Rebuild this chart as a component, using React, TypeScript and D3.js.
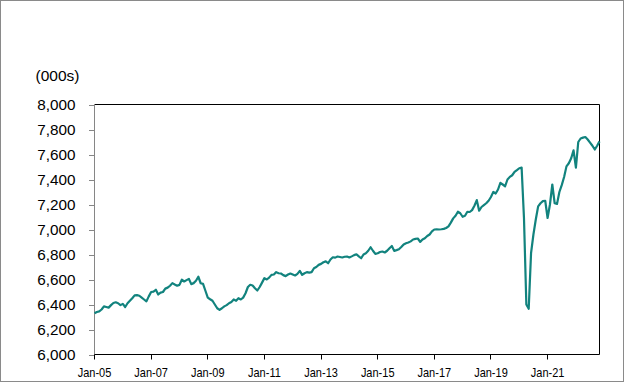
import React from "react";
import * as d3 from "d3";

const startYear = 2005;
const unitLabel = "(000s)";
const yTicks = [6000, 6200, 6400, 6600, 6800, 7000, 7200, 7400, 7600, 7800, 8000];
const xTickLabels = ["Jan-05", "Jan-07", "Jan-09", "Jan-11", "Jan-13", "Jan-15", "Jan-17", "Jan-19", "Jan-21"];

// Monthly employment, thousands, Jan 2005 – Nov 2022
const employment = [
  // 2005
  6330, 6340, 6345, 6360, 6385, 6380, 6375, 6395, 6412, 6418, 6410, 6395,
  // 2006
  6405, 6380, 6410, 6430, 6450, 6473, 6475, 6470, 6455, 6440, 6425, 6465,
  // 2007
  6500, 6503, 6518, 6480, 6495, 6500, 6527, 6535, 6550, 6571, 6560, 6550,
  // 2008
  6557, 6598, 6584, 6595, 6605, 6563, 6571, 6590, 6622, 6570, 6565, 6510,
  // 2009
  6455, 6442, 6430, 6400, 6370, 6357, 6370, 6385, 6395, 6410, 6420, 6440,
  // 2010
  6430, 6450, 6440, 6455, 6490, 6540, 6558, 6552, 6530, 6512, 6540, 6575,
  // 2011
  6611, 6600, 6615, 6637, 6640, 6659, 6650, 6648, 6635, 6627, 6640, 6648,
  // 2012
  6640, 6632, 6645, 6669, 6637, 6650, 6659, 6655, 6659, 6690, 6700, 6717,
  // 2013
  6725, 6738, 6745, 6730, 6760, 6778, 6775, 6784, 6780, 6776, 6782, 6784,
  // 2014
  6776, 6785, 6795, 6802, 6785, 6770, 6800, 6810, 6830, 6858, 6830, 6805,
  // 2015
  6810, 6820, 6824, 6816, 6830, 6850, 6868, 6829, 6835, 6842, 6860, 6880,
  // 2016
  6890, 6896, 6905, 6920, 6925, 6928, 6901, 6920, 6930, 6948, 6960, 6985,
  // 2017
  7000, 7001, 7000, 7002, 7005, 7012, 7025, 7055, 7089, 7110, 7142, 7130,
  // 2018
  7102, 7110, 7142, 7140, 7155, 7190, 7235, 7150, 7180, 7195, 7210, 7230,
  // 2019
  7260, 7301, 7288, 7320, 7373, 7360, 7346, 7400, 7421, 7434, 7461, 7475,
  // 2020
  7490, 7495, 7090, 6400, 6366, 6812, 6960, 7080, 7185, 7210, 7227, 7230,
  // 2021
  7092, 7200, 7360, 7210, 7205, 7300, 7355, 7420, 7505, 7530, 7570, 7633,
  // 2022
  7495, 7700, 7728, 7735, 7740, 7720, 7695, 7670, 7640, 7670, 7705,
];

const W = 624;
const H = 382;
const left = 94.5;
const right = 599.5;
const top = 104.5;
const bottom = 354.5;

export default function App() {
  const x = d3.scaleLinear().domain([0, employment.length - 1]).range([left, right]);
  const y = d3.scaleLinear().domain([6000, 8000]).range([bottom, top]);
  const line = d3
    .line<number>()
    .x((_, i) => x(i))
    .y((d) => y(d));

  const font = "'Liberation Sans', Arial, sans-serif";

  return (
    <svg
      width={W}
      height={H}
      style={{ position: "fixed", left: 0, top: 0, background: "#fff" }}
      fontFamily={font}
    >
      <rect x={0.5} y={0.5} width={W - 1} height={H - 1} fill="#fff" stroke="#8a8a8a" strokeWidth={1} />

      <text x={35.5} y={80.5} fontSize={15.5} fill="#000">
        {unitLabel}
      </text>

      {/* plot frame: top & right black */}
      <line x1={left} y1={top} x2={right} y2={top} stroke="#000" strokeWidth={1} />
      <line x1={right} y1={top} x2={right} y2={bottom} stroke="#000" strokeWidth={1} />

      {/* y axis */}
      <line x1={left} y1={top - 0.5} x2={left} y2={bottom} stroke="#868686" strokeWidth={1} />
      {yTicks.map((t) => (
        <g key={t}>
          <line x1={left - 5.5} y1={Math.round(y(t)) + 0.5} x2={left} y2={Math.round(y(t)) + 0.5} stroke="#868686" />
          <text
            x={75.5}
            y={y(t)}
            dy="0.36em"
            textAnchor="end"
            fontSize={15.3}
            fill="#000"
          >
            {d3.format(",")(t)}
          </text>
        </g>
      ))}

      <path d={line(employment) || ""} fill="none" stroke="#12837E" strokeWidth={2.2} strokeLinejoin="round" />

      {/* x axis */}
      <line x1={left} y1={bottom} x2={right} y2={bottom} stroke="#000" strokeWidth={1} />
      {xTickLabels.map((lab, k) => {
        const xi = x(k * 24);
        const xr = Math.round(xi - 0.5) + 0.5;
        return (
          <g key={lab}>
            <line x1={xr} y1={bottom} x2={xr} y2={bottom + 5} stroke="#000" />
            <text
              transform={`translate(${xi},376.5) scale(0.86,1)`}
              textAnchor="middle"
              fontSize={12.8}
              fill="#000"
            >
              {lab}
            </text>
          </g>
        );
      })}
    </svg>
  );
}
